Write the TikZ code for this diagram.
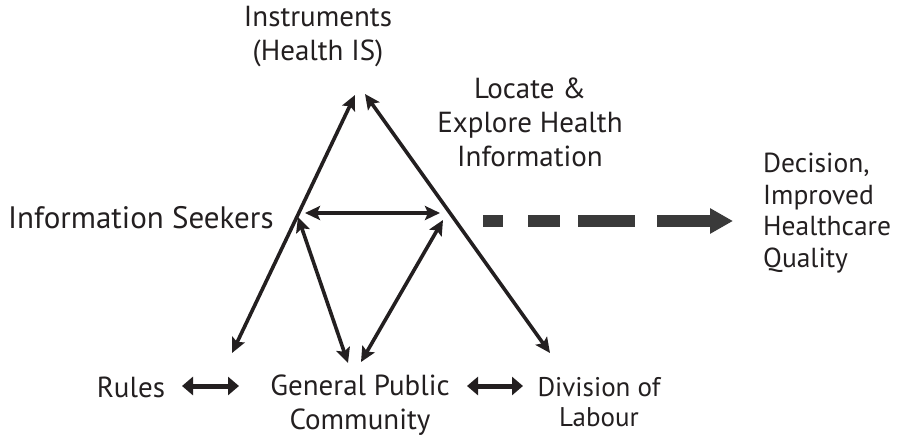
\documentclass[tikz,border=0pt]{standalone}
\usepackage{fontspec}
\setmainfont{PT Sans}
\usetikzlibrary{arrows.meta}
\definecolor{ink}{HTML}{231F20}
\definecolor{dash}{HTML}{3A3A3A}
\begin{document}
\begin{tikzpicture}[x=1pt,y=-1pt,
  lbl/.style={inner sep=0pt, align=center, text=ink, font=\fontsize{29}{34}\selectfont},
  lblbig/.style={inner sep=0pt, text=ink, font=\fontsize{31}{31.5}\selectfont},
  lbldec/.style={inner sep=0pt, align=left, text=ink, font=\fontsize{27.5}{31.5}\selectfont},
  lblsmall/.style={inner sep=0pt, align=center, text=ink, font=\fontsize{27}{30}\selectfont},
  conn/.style={line width=3.6pt, draw=ink, line cap=butt,
    {Stealth[length=15pt,width=14pt,inset=3pt]}-{Stealth[length=15pt,width=14pt,inset=3pt]}},
  pair/.style={line width=5pt, draw=ink,
    {Triangle[length=11pt,width=18pt]}-{Triangle[length=11pt,width=18pt]}},
  bigarrow/.style={line width=12pt, draw=dash, line cap=butt,
    dash pattern=on 20pt off 25pt on 32pt off 18pt on 57pt off 22pt on 200pt,
    -{Triangle[length=23pt,width=24pt]}}
]
\useasboundingbox[fill=white] (0,0) rectangle (898,437);

% text nodes
\node[lbl] (instr) at (318,37) {Instruments\\(Health IS)};
\node[lbl] (locate) at (530,122) {Locate \&\\Explore Health\\Information};
\node[lblbig, anchor=west] (seekers) at (8,218) {Information Seekers};
\node[lbldec, anchor=west] (decision) at (763,213) {Decision,\\Improved\\Healthcare\\Quality};
\node[lbl] (rules) at (131,387) {Rules};
\node[lbl] (gp) at (360,405) {General Public\\Community};
\node[lblsmall] (div) at (599,402) {Division of\\Labour};

% arrow end points
\coordinate (topL) at (355,95);
\coordinate (topR) at (365,94);
\coordinate (rulesT) at (232,353);
\coordinate (divT) at (550,353);
\coordinate (hL) at (305,213);
\coordinate (hR) at (440,213);
\coordinate (sJ) at (298,217);
\coordinate (gpL) at (348,363);
\coordinate (gpR) at (361,362);
\coordinate (hJ) at (443,220);
\coordinate (rgA) at (182,386);
\coordinate (rgB) at (239,386);
\coordinate (gdA) at (467,386);
\coordinate (gdB) at (523,386);
\coordinate (dS) at (483,221);
\coordinate (dE) at (733,221);

% connectors
\draw[conn] (topL) -- (rulesT);
\draw[conn] (topR) -- (divT);
\draw[conn] (hL) -- (hR);
\draw[conn] (sJ) -- (gpL);
\draw[conn] (hJ) -- (gpR);
\draw[pair] (rgA) -- (rgB);
\draw[pair] (gdA) -- (gdB);
\draw[bigarrow] (dS) -- (dE);
\end{tikzpicture}
\end{document}
